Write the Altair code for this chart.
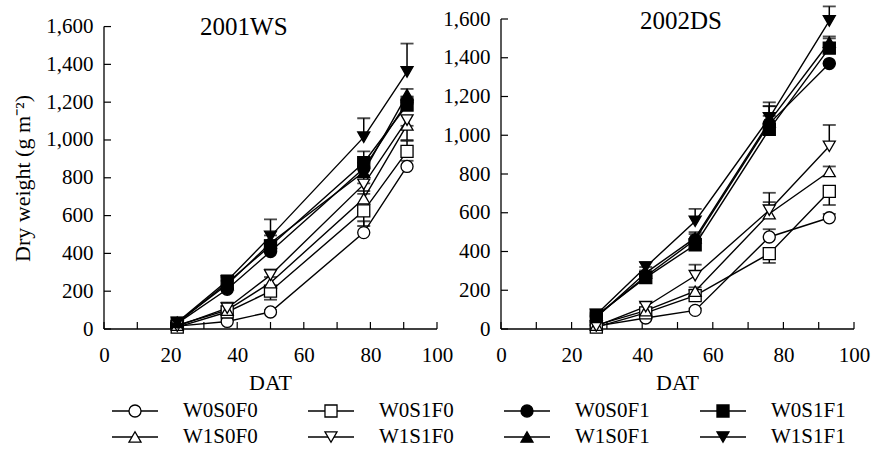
import altair as alt
import pandas as pd

FONT = "Liberation Serif"

PANELS = ["2001WS", "2002DS"]
SERIES = ["W0S0F0", "W0S1F0", "W0S0F1", "W0S1F1",
          "W1S0F0", "W1S1F0", "W1S0F1", "W1S1F1"]
SHAPES = ["circle", "square", "circle", "square",
          "triangle-up", "triangle-down", "triangle-up", "triangle-down"]
FILLS = ["white", "white", "black", "black", "white", "white", "black", "black"]

X_TICK_LABELS = [0, 20, 40, 60, 80, 100]
X_TICKS = [0, 10, 20, 30, 40, 50, 60, 70, 80, 90, 100]
Y_TICKS = [0, 200, 400, 600, 800, 1000, 1200, 1400, 1600]

# ---- 2001WS ----
DAT_WS = [22, 37, 50, 78, 91]
WS_W0S0F0 = [15, 40, 90, 510, 860]
WS_W0S1F0 = [10, 90, 200, 625, 940]
WS_W1S0F0 = [20, 100, 245, 690, 1080]
WS_W1S1F0 = [15, 110, 285, 765, 1105]
WS_W0S0F1 = [30, 210, 410, 850, 1200]
WS_W0S1F1 = [30, 245, 440, 880, 1185]
WS_W1S0F1 = [35, 235, 455, 830, 1240]
WS_W1S1F1 = [35, 255, 490, 1015, 1360]
# signed error bars (positive = drawn upward, negative = downward)
WS_ERR_W0S0F0 = [5, 10, 10, 60, 30]
WS_ERR_W0S1F0 = [5, 15, -45, -80, 55]
WS_ERR_W1S0F0 = [5, 20, 30, 40, -80]
WS_ERR_W1S1F0 = [5, 30, 30, -50, -30]
WS_ERR_W0S0F1 = [5, 20, 30, 30, 30]
WS_ERR_W0S1F1 = [5, 30, 30, 60, 40]
WS_ERR_W1S0F1 = [5, 20, 40, -60, 30]
WS_ERR_W1S1F1 = [5, 30, 90, 100, 150]

# ---- 2002DS ----
DAT_DS = [27, 41, 55, 76, 93]
DS_W0S0F0 = [15, 57, 96, 475, 574]
DS_W0S1F0 = [10, 83, 172, 389, 710]
DS_W1S0F0 = [20, 95, 195, 595, 813]
DS_W1S1F0 = [15, 115, 275, 613, 943]
DS_W0S0F1 = [65, 272, 460, 1060, 1370]
DS_W0S1F1 = [70, 265, 435, 1030, 1450]
DS_W1S0F1 = [60, 290, 470, 1070, 1480]
DS_W1S1F1 = [75, 320, 556, 1090, 1590]
DS_ERR_W0S0F0 = [5, 10, 10, 40, 20]
DS_ERR_W0S1F0 = [-5, 10, 30, -48, -70]
DS_ERR_W1S0F0 = [5, 15, 20, 60, 26]
DS_ERR_W1S1F0 = [5, 20, 57, 90, 110]
DS_ERR_W0S0F1 = [10, 30, 30, 90, 0]
DS_ERR_W0S1F1 = [10, 30, 30, 70, 50]
DS_ERR_W1S0F1 = [10, 30, 30, 80, 30]
DS_ERR_W1S1F1 = [10, 25, 64, 80, 75]

WS_VALUES = {"W0S0F0": WS_W0S0F0, "W0S1F0": WS_W0S1F0, "W0S0F1": WS_W0S0F1, "W0S1F1": WS_W0S1F1,
             "W1S0F0": WS_W1S0F0, "W1S1F0": WS_W1S1F0, "W1S0F1": WS_W1S0F1, "W1S1F1": WS_W1S1F1}
WS_ERRORS = {"W0S0F0": WS_ERR_W0S0F0, "W0S1F0": WS_ERR_W0S1F0, "W0S0F1": WS_ERR_W0S0F1, "W0S1F1": WS_ERR_W0S1F1,
             "W1S0F0": WS_ERR_W1S0F0, "W1S1F0": WS_ERR_W1S1F0, "W1S0F1": WS_ERR_W1S0F1, "W1S1F1": WS_ERR_W1S1F1}
DS_VALUES = {"W0S0F0": DS_W0S0F0, "W0S1F0": DS_W0S1F0, "W0S0F1": DS_W0S0F1, "W0S1F1": DS_W0S1F1,
             "W1S0F0": DS_W1S0F0, "W1S1F0": DS_W1S1F0, "W1S0F1": DS_W1S0F1, "W1S1F1": DS_W1S1F1}
DS_ERRORS = {"W0S0F0": DS_ERR_W0S0F0, "W0S1F0": DS_ERR_W0S1F0, "W0S0F1": DS_ERR_W0S0F1, "W0S1F1": DS_ERR_W0S1F1,
             "W1S0F0": DS_ERR_W1S0F0, "W1S1F0": DS_ERR_W1S1F0, "W1S0F1": DS_ERR_W1S0F1, "W1S1F1": DS_ERR_W1S1F1}

W, H = 750, 310          # whole drawing area (both panels side by side)
shape_scale = alt.Scale(domain=SERIES, range=SHAPES)
fill_scale = alt.Scale(domain=SERIES, range=FILLS)


def panel(name, dat, vals, errs, xdomain, ymax, label_x, label_y,
          title_x, y_offset, ytitle):
    rows = []
    for s in SERIES:
        for d, v, e in zip(dat, vals[s], errs[s]):
            rows.append({"series": s, "dat": d, "value": v, "top": v + e})
    df = pd.DataFrame(rows)
    xs = alt.Scale(domain=xdomain, nice=False, zero=False)
    ys = alt.Scale(domain=[0, ymax], nice=False, zero=False)

    common = dict(labelFont=FONT, labelFontSize=21, labelColor="black",
                  titleFont=FONT, titleFontSize=22, titleFontWeight="normal", titleColor="black",
                  domain=False, labelFlush=False, labelOverlap=False)
    x_axis = alt.Axis(values=X_TICK_LABELS, orient="bottom", title="DAT", format=".0f",
                      labelPadding=15, titleX=title_x, titleY=53, titleBaseline="middle", **common)
    y_kw = dict(values=Y_TICKS, orient="left", format=",.0f", labelPadding=11,
                offset=y_offset, **common)
    if ytitle:
        y_axis = alt.Axis(title=ytitle, titleX=-82, titleY=159, titleAngle=-90,
                          titleAlign="center", titleBaseline="middle", **y_kw)
    else:
        y_axis = alt.Axis(title=None, **y_kw)

    def X(f):
        return alt.X(f, scale=xs, axis=x_axis)

    def Y(f):
        return alt.Y(f, scale=ys, axis=y_axis)

    frame = pd.DataFrame({"x0": [0], "x1": [100], "y0": [0], "y1": [Y_TICKS[-1]]})
    yline = alt.Chart(frame).mark_rule(color="black", strokeWidth=1.3).encode(
        x=X("x0:Q"), y=Y("y0:Q"), y2="y1:Q")
    xline = alt.Chart(frame).mark_rule(color="black", strokeWidth=1.3).encode(
        x=X("x0:Q"), x2="x1:Q", y=Y("y0:Q"))
    yticks = alt.Chart(pd.DataFrame({"v": Y_TICKS, "z": 0})).mark_rule(
        color="black", strokeWidth=1.2, x2Offset=7).encode(
        y=Y("v:Q"), x=X("z:Q"), x2="z:Q")
    xticks = alt.Chart(pd.DataFrame({"v": X_TICKS, "z": 0})).mark_rule(
        color="black", strokeWidth=1.2, y2Offset=-7).encode(
        x=X("v:Q"), y=Y("z:Q"), y2="z:Q")

    base = alt.Chart(df)
    lines = base.mark_line(color="black", strokeWidth=1.4).encode(
        x=X("dat:Q"), y=Y("value:Q"), detail="series:N")
    ebar = base.mark_rule(color="black", strokeWidth=1.5).encode(
        x=X("dat:Q"), y=Y("value:Q"), y2="top:Q")
    ecap = base.mark_tick(color="black", orient="horizontal", size=13, thickness=1.8).encode(
        x=X("dat:Q"), y=Y("top:Q"))
    pts = base.mark_point(filled=True, size=145, stroke="black", strokeWidth=1.3, opacity=1).encode(
        x=X("dat:Q"), y=Y("value:Q"),
        shape=alt.Shape("series:N", scale=shape_scale, legend=None),
        fill=alt.Fill("series:N", scale=fill_scale, legend=None))
    label = alt.Chart(pd.DataFrame({"name": [name], "lx": [label_x], "ly": [label_y]})).mark_text(
        font=FONT, fontSize=25, color="black", baseline="middle").encode(
        x=X("lx:Q"), y=Y("ly:Q"), text="name:N")

    return alt.layer(lines, yline, xline, yticks, xticks, ebar, ecap, pts, label)


# left panel occupies 0..333 px, right panel 397..750 px of the drawing width
left = panel(PANELS[0], DAT_WS, WS_VALUES, WS_ERRORS, [0, 100 * W / 333], 1640,
             42, 1600, 166, 0, "Dry weight (g m⁻²)")
right = panel(PANELS[1], DAT_DS, DS_VALUES, DS_ERRORS, [-100 * 397 / 353, 100], 1600,
              51, 1588, 573, -397, None)

# legend, laid out on a 4 x 2 grid through its own scales
leg_df = pd.DataFrame({"series": SERIES,
                       "col": [i % 4 for i in range(len(SERIES))],
                       "row": [i // 4 for i in range(len(SERIES))]})
lx = alt.Scale(domain=[-31 / 196, (W - 31) / 196], nice=False, zero=False)
ly = alt.Scale(domain=[-392 / 26, (H - 392) / 26], reverse=True, nice=False, zero=False)
leg_base = alt.Chart(leg_df)
leg_line = leg_base.mark_rule(color="black", strokeWidth=1.4, xOffset=-23, x2Offset=23).encode(
    x=alt.X("col:Q", scale=lx, axis=None), x2="col:Q", y=alt.Y("row:Q", scale=ly, axis=None))
leg_pts = leg_base.mark_point(filled=True, size=145, stroke="black", strokeWidth=1.3, opacity=1).encode(
    x=alt.X("col:Q", scale=lx, axis=None), y=alt.Y("row:Q", scale=ly, axis=None),
    shape=alt.Shape("series:N", scale=shape_scale, legend=None),
    fill=alt.Fill("series:N", scale=fill_scale, legend=None))
leg_txt = leg_base.mark_text(font=FONT, fontSize=21, color="black", align="left",
                             baseline="middle", dx=48).encode(
    x=alt.X("col:Q", scale=lx, axis=None), y=alt.Y("row:Q", scale=ly, axis=None), text="series:N")
legend = alt.layer(leg_line, leg_pts, leg_txt)

chart = alt.layer(left, right, legend).resolve_scale(
    x="independent", y="independent"
).properties(
    width=W, height=H,
    padding={"left": 104, "top": 19, "right": 19, "bottom": 121},
    autosize=alt.AutoSizeParams(type="none"),
).configure_view(stroke=None).configure_axis(
    labelFont=FONT, labelFontSize=21, labelColor="black",
    titleFont=FONT, titleFontWeight="normal", titleColor="black",
    domainColor="black", domainWidth=1.3, ticks=False, tickSize=0, grid=False,
)

chart.save("out.html", embed_options={"renderer": "svg", "actions": False})
